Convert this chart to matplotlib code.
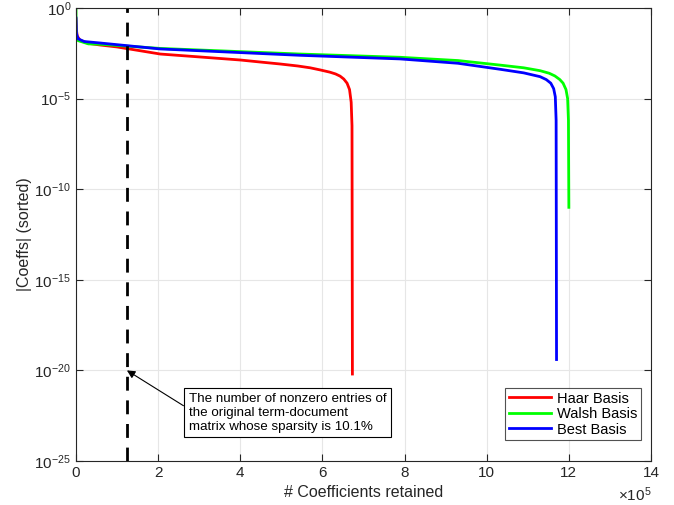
import numpy as np
import matplotlib
matplotlib.use("Agg")
import matplotlib.pyplot as plt
from matplotlib.ticker import FixedLocator, FuncFormatter, LogFormatterSciNotation, NullLocator

plt.rcParams['font.family'] = ['Liberation Sans', 'DejaVu Sans']
plt.rcParams['mathtext.default'] = 'regular'

# x in number of coefficients, y as log10(|coeff|)
haar_x = [0, 0.01e5, 0.03e5, 0.1e5, 0.3e5, 0.58e5, 1.0e5, 2.05e5, 3.0e5, 4.0e5, 4.48e5, 4.97e5,
          5.40e5, 5.70e5, 5.95e5, 6.18e5, 6.32e5, 6.43e5, 6.52e5, 6.60e5, 6.66e5, 6.70e5, 6.72e5, 6.73e5]
haar_log = [-0.6, -1.2, -1.55, -1.78, -1.95, -2.04, -2.15, -2.54, -2.7, -2.87, -2.98, -3.09,
            -3.2, -3.3, -3.42, -3.54, -3.64, -3.76, -3.92, -4.15, -4.5, -5.2, -6.5, -20.2]

walsh_x = [0, 0.0, 0.01e5, 0.05e5, 0.3e5, 0.58e5, 2.05e5, 5.45e5, 7.89e5, 9.3e5, 10.32e5, 10.9e5,
           11.30e5, 11.52e5, 11.66e5, 11.78e5, 11.86e5, 11.93e5, 11.97e5, 11.99e5, 12.0e5]
walsh_log = [0, -1.0, -1.6, -1.8, -1.98, -2.0, -2.23, -2.54, -2.72, -2.9, -3.15, -3.3,
             -3.46, -3.6, -3.75, -3.95, -4.15, -4.5, -5.0, -6.2, -11.0]

best_x = [0, 0.01e5, 0.05e5, 0.2e5, 0.58e5, 2.05e5, 5.45e5, 7.89e5, 9.3e5, 10.32e5, 10.9e5, 11.30e5,
          11.45e5, 11.56e5, 11.63e5, 11.67e5, 11.69e5, 11.70e5]
best_log = [-0.55, -1.4, -1.7, -1.85, -1.93, -2.26, -2.61, -2.81, -3.05, -3.38, -3.58, -3.79,
            -3.95, -4.15, -4.45, -4.9, -6.2, -19.4]

sparsity_x = 1.24e5
annot_y = 1e-20
annot_text = "The number of nonzero entries of\nthe original term-document\nmatrix whose sparsity is 10.1%"

fig = plt.figure(figsize=(6.74, 5.05), dpi=100)
ax = fig.add_axes([76/674, 1-461/505, (651-76)/674, (461-8)/505])

ax.plot(haar_x, 10.0**np.array(haar_log), color=(1, 0, 0), lw=2, label='Haar Basis')
ax.plot(walsh_x, 10.0**np.array(walsh_log), color=(0, 1, 0), lw=2, label='Walsh Basis')
ax.plot(best_x, 10.0**np.array(best_log), color=(0, 0, 1), lw=2, label='Best Basis')

ax.axvline(sparsity_x, color='black', lw=2, ls=(0, (5, 3.5)))

ax.set_yscale('log')
ax.set_xlim(0, 14e5)
ax.set_ylim(1e-25, 1e0)
ax.yaxis.set_major_locator(FixedLocator([1e-25, 1e-20, 1e-15, 1e-10, 1e-5, 1e0]))
ax.yaxis.set_minor_locator(NullLocator())
ax.yaxis.set_major_formatter(LogFormatterSciNotation())
ax.xaxis.set_major_locator(FixedLocator(np.arange(0, 14.1e5, 2e5)))
ax.xaxis.set_major_formatter(FuncFormatter(lambda v, p: f"{v/1e5:g}"))

tc = (0.15, 0.15, 0.15)
ax.grid(True, color=(0.9, 0.9, 0.9), lw=0.8)
ax.set_axisbelow(True)
ax.tick_params(direction='in', length=5, width=0.8, colors=tc, labelsize=11, top=True, right=True,
               labelcolor=tc)
for s in ax.spines.values():
    s.set_color(tc)
    s.set_linewidth(0.8)

ax.text(1.0, -0.053, r'$\times10^{5}$', transform=ax.transAxes, ha='right', va='top',
        fontsize=11, color=tc)

ax.set_xlabel('# Coefficients retained', fontsize=11.5, color=tc, labelpad=4)
ax.set_ylabel('|Coeffs| (sorted)', fontsize=11.5, color=tc, labelpad=2)

ax.annotate(annot_text, xy=(sparsity_x, annot_y), xytext=(2.74e5, 10**-21.25),
            fontsize=9.6, color='black', ha='left', va='top', linespacing=1.2,
            bbox=dict(boxstyle='square,pad=0.35', fc='white', ec='black', lw=0.8),
            arrowprops=dict(arrowstyle='-|>', color='black', lw=0.8, mutation_scale=12,
                            shrinkA=0, shrinkB=0, relpos=(0, 0.6)),
            )

leg = ax.legend(loc='lower right', bbox_to_anchor=(0.983, 0.046), fontsize=10.5, frameon=True,
                fancybox=False, edgecolor=tc, handlelength=2.9, handletextpad=0.4,
                labelspacing=0.1, borderpad=0.25, borderaxespad=0)
leg.get_frame().set_linewidth(0.8)

fig.savefig('out.png', dpi=100)
